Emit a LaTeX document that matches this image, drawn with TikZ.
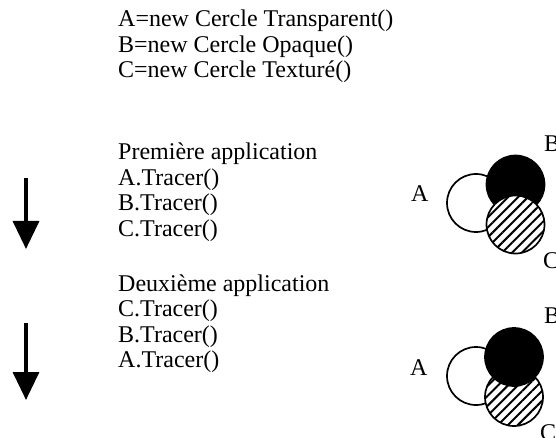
\documentclass[tikz,border=0pt]{standalone}
\usepackage{fontspec}
\setmainfont{Liberation Serif}
\usetikzlibrary{arrows.meta,patterns.meta}
\begin{document}
\begin{tikzpicture}[x=1pt,y=-1pt,
  codeline/.style={anchor=base west,inner sep=0pt,font=\fontsize{24}{27}\selectfont},
  ordre/.style={line width=3.5pt,-{Triangle[width=26pt,length=28pt]}},
  cercle/.style={line width=1.7pt},
  transparent/.style={cercle,draw=black,fill=white},
  opaque/.style={cercle,draw=black,fill=black},
  texture/.style={cercle,draw=black,preaction={fill=white},pattern={Lines[angle=45,distance=7pt,line width=2pt]}}]
\useasboundingbox (0,0) rectangle (556,438);

\coordinate (A1) at (476,203);
\coordinate (B1) at (515.5,184.5);
\coordinate (C1) at (515.5,224.5);
\coordinate (A2) at (476,376);
\coordinate (B2) at (514,357);
\coordinate (C2) at (514,397);

% declarations
\node[codeline] (decA) at (118,27) {A=new Cercle Transparent()};
\node[codeline] (decB) at (118,52.5) {B=new Cercle Opaque()};
\node[codeline] (decC) at (118,78) {C=new Cercle Texturé()};

% first application
\node[codeline] (app1) at (118,160) {Première application};
\node[codeline] (t1A) at (118,185.5) {A.Tracer()};
\node[codeline] (t1B) at (118,211) {B.Tracer()};
\node[codeline] (t1C) at (118,236.5) {C.Tracer()};

% second application
\node[codeline] (app2) at (118,291) {Deuxième application};
\node[codeline] (t2C) at (118,316.5) {C.Tracer()};
\node[codeline] (t2B) at (118,342) {B.Tracer()};
\node[codeline] (t2A) at (118,367.5) {A.Tracer()};

\coordinate (haut1) at (26,178);
\coordinate (bas1) at (26,249);
\coordinate (haut2) at (26,323);
\coordinate (bas2) at (26,400);
\draw[ordre] (haut1) -- (bas1);
\draw[ordre] (haut2) -- (bas2);

% A, B, C drawn in order
\draw[transparent] (A1) circle [radius=29];
\draw[opaque] (B1) circle [radius=29];
\draw[texture] (C1) circle [radius=29];

% C, B, A drawn in order
\draw[transparent] (A2) circle [radius=29];
\draw[texture] (C2) circle [radius=29];
\draw[opaque] (B2) circle [radius=29];

\node[codeline] (labA1) at (411,202) {A};
\node[codeline] (labB1) at (544,152) {B};
\node[codeline] (labC1) at (543,268) {C};
\node[codeline] (labA2) at (410,375) {A};
\node[codeline] (labB2) at (544,323) {B};
\node[codeline] (labC2) at (540,440) {C};
\end{tikzpicture}
\end{document}
